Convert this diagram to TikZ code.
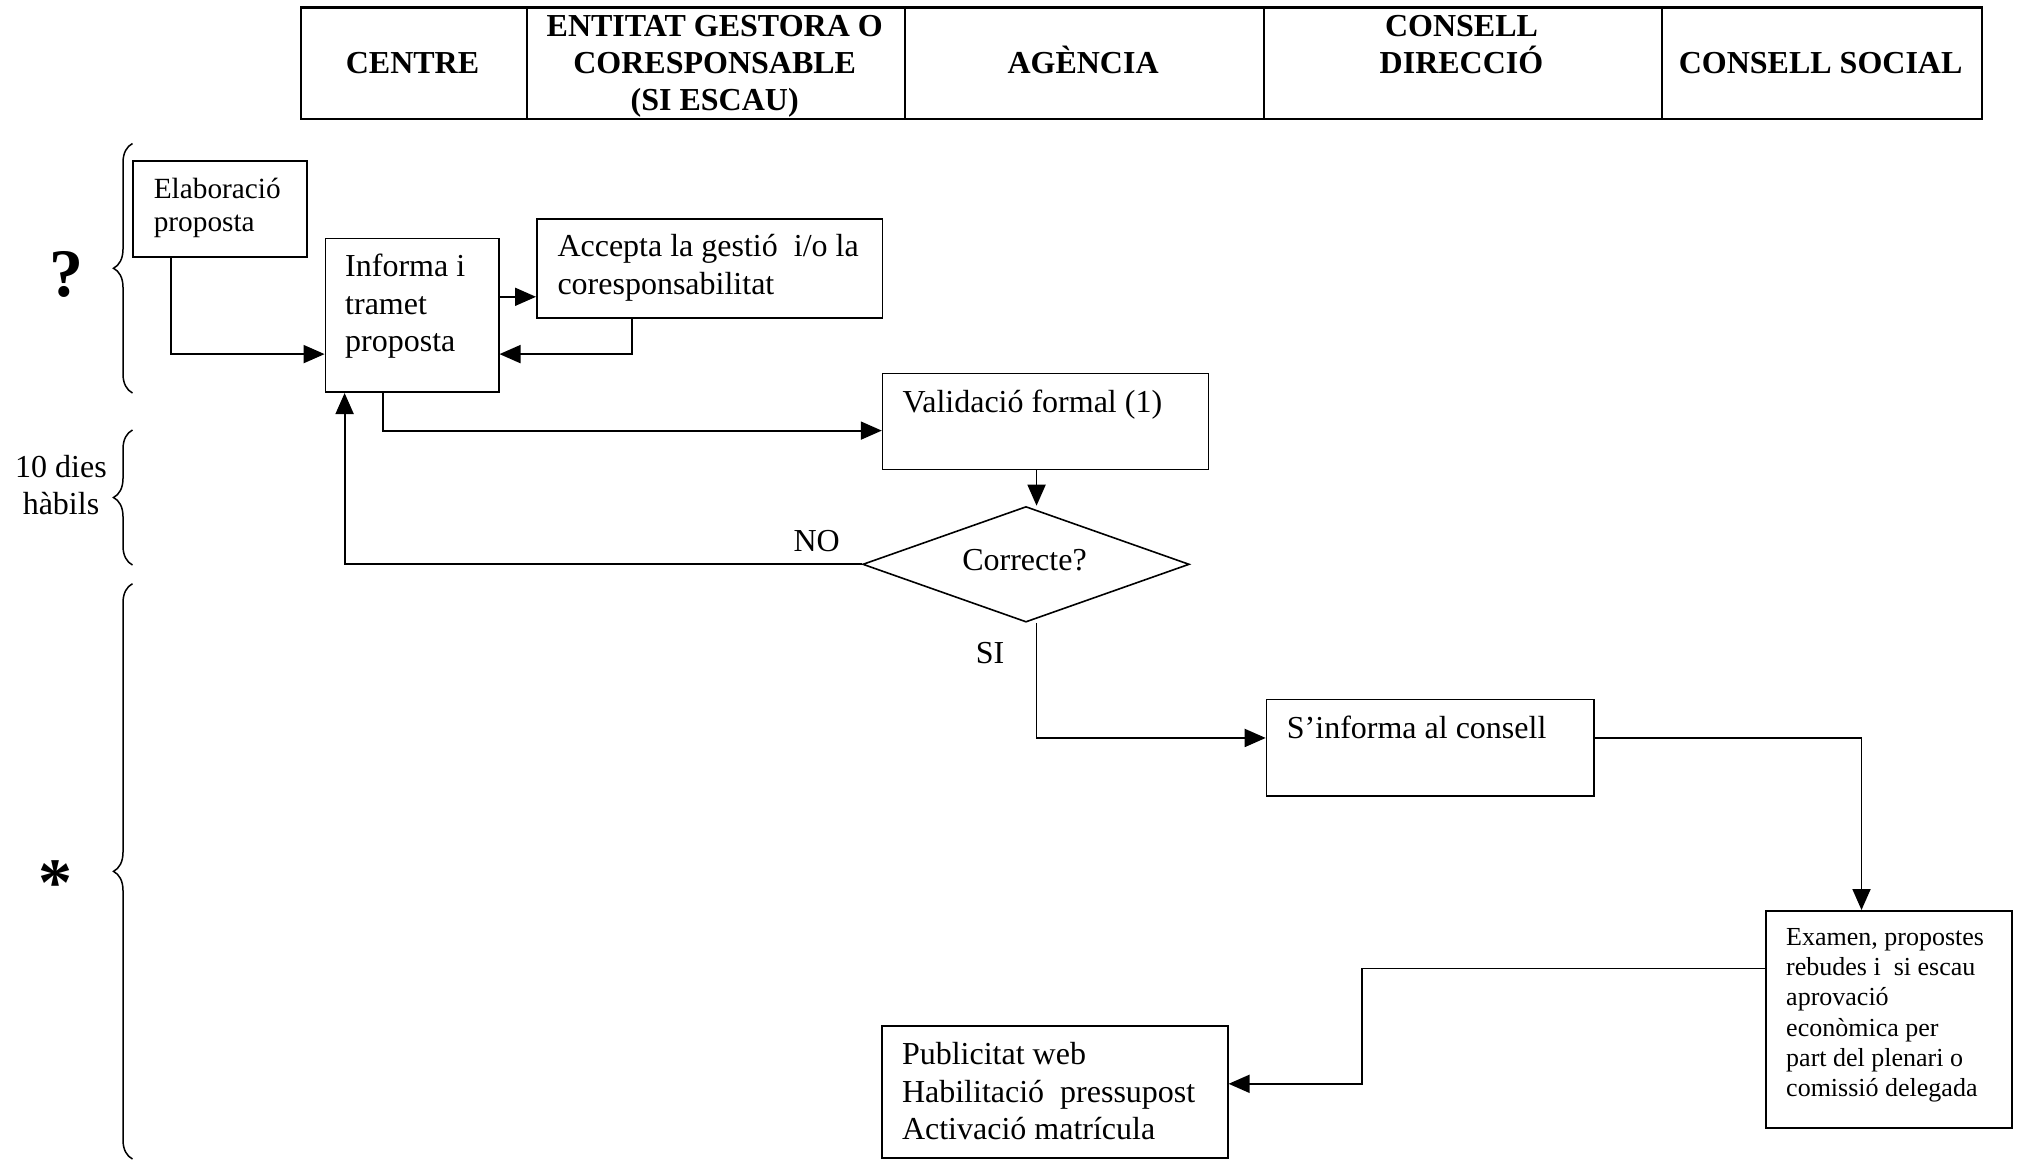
\documentclass[tikz,border=0pt]{standalone}
\usepackage{fontspec}
\setmainfont{Liberation Serif}
\usetikzlibrary{arrows.meta,shapes.geometric,decorations.pathreplacing,calc}
\newcommand\tstrut{\rule{0pt}{36pt}}
\begin{document}
\begin{tikzpicture}[x=1pt,y=-1pt,
  box/.style={draw, line width=1.6pt, rectangle, inner sep=0pt, anchor=north west},
  hcell/.style={draw, line width=2.4pt, rectangle, inner sep=0pt, anchor=north west, minimum height=111.3pt},
  arr/.style={line width=1.8pt, -{Triangle[length=21pt,width=18pt]}},
  plain/.style={line width=1.8pt},
  txt/.style={inner sep=0pt, anchor=north west, align=left, font=\fontsize{32}{37.2}\selectfont},
  stxt/.style={inner sep=0pt, anchor=north west, align=left, font=\fontsize{29.3}{33.4}\selectfont},
  xtxt/.style={inner sep=0pt, anchor=north west, align=left, font=\fontsize{26}{30.3}\selectfont},
  htxt/.style={inner sep=0pt, align=center, font=\fontsize{32}{37}\selectfont\bfseries},
  lbl/.style={inner sep=0pt, anchor=base, font=\fontsize{32}{37}\selectfont},
  big/.style={inner sep=0pt, anchor=base, font=\fontsize{68}{70}\selectfont\bfseries},
  brc/.style={line width=1.5pt, decorate, decoration={brace, amplitude=19pt}}
]
\useasboundingbox (0,0) rectangle (2020,1160);

% header table
\node[hcell, minimum width=226.1pt] (h1) at (299.5,6.3) {};
\node[hcell, minimum width=378.1pt] (h2) at (525.6,6.3) {};
\node[hcell, minimum width=358.8pt] (h3) at (903.7,6.3) {};
\node[hcell, minimum width=398.1pt] (h4) at (1262.5,6.3) {};
\node[hcell, minimum width=320.1pt] (h5) at (1660.6,6.3) {};
\node[htxt, anchor=base] (h1t) at (412.5,73.2) {CENTRE};
\node[htxt, anchor=north] (h2t) at (714.7,0.3) {\tstrut ENTITAT GESTORA O\\CORESPONSABLE\\(SI ESCAU)};
\node[htxt, anchor=base] (h3t) at (1083.1,73.2) {AGÈNCIA};
\node[htxt, anchor=north] (h4t) at (1461.5,0.3) {\tstrut CONSELL\\DIRECCIÓ};
\node[htxt, anchor=base] (h5t) at (1820.6,73.2) {CONSELL SOCIAL};

% boxes
\node[box, minimum width=174pt, minimum height=96pt] (elab) at (132,160) {};
\node[box, minimum width=173.3pt, minimum height=153.6pt] (inf) at (324.6,237.8) {};
\node[box, minimum width=345.8pt, minimum height=99.2pt] (acc) at (536,218.2) {};
\node[box, minimum width=325.9pt, minimum height=96.2pt] (val) at (881.8,372.5) {};
\node[draw, line width=1.6pt, diamond, inner sep=0pt, minimum width=326.6pt, minimum height=115.6pt] (dia) at (1026,564.3) {};
\node[box, minimum width=327.3pt, minimum height=96.3pt] (sinf) at (1265.7,698.7) {};
\node[box, minimum width=246pt, minimum height=217pt] (exam) at (1765,910) {};
\node[box, minimum width=346pt, minimum height=132pt] (pub) at (881,1025) {};

% box texts
\node[stxt] (elabt) at (153.6,162.3) {\tstrut Elaboració\\proposta};
\node[txt] (inft) at (345,240.7) {\tstrut Informa i\\tramet\\proposta};
\node[txt] (acct) at (557.3,220.7) {\tstrut Accepta la gestió~ i/o la\\coresponsabilitat};
\node[txt] (valt) at (902.5,376) {\tstrut Validació formal (1)};
\node[lbl] (diat) at (1024.5,570) {Correcte?};
\node[txt] (sinft) at (1286.7,702.3) {\tstrut S’informa al consell};
\node[xtxt] (examt) at (1786,909) {\tstrut Examen, propostes\\rebudes i~ si escau\\aprovació\\econòmica per\\part del plenari o\\comissió delegada};
\node[txt] (pubt) at (901.8,1028.6) {\tstrut Publicitat web\\Habilitació~ pressupost\\Activació matrícula};

% labels
\node[lbl] (no) at (816.7,551) {NO};
\node[lbl] (si) at (990,663) {SI};
\node[big] (q) at (66,296) {?};
\node[big] (ast) at (55,905) {*};
\node[lbl, anchor=north, align=center] (dies) at (61,441) {\tstrut 10 dies\\hàbils};

% braces
\draw[brc] (132.5,393) -- (132.5,143.5);
\draw[brc] (132.5,565) -- (132.5,430);
\draw[brc] (132.5,1159) -- (132.5,583.7);

% connectors
\draw[arr] ([xshift=38.7pt]elab.south west) |- ([yshift=-38.7pt]inf.west);
\coordinate (c1) at ([yshift=18.6pt]inf.east);
\draw[arr] (c1) -- (c1 -| acc.west);
\draw[arr] ([xshift=95.9pt]acc.south west) |- ([yshift=-38.7pt]inf.east);
\draw[arr] ([xshift=58pt]inf.south west) |- ([yshift=-9.2pt]val.west);
\coordinate (vx) at ([xshift=-9pt]val.south);
\draw[arr] (vx) -- (vx |- dia.north);
\draw[arr] (dia.west) -| ([xshift=20pt]inf.south west);
\draw[arr] (dia.south -| vx) |- ([yshift=9.7pt]sinf.west);
\draw[arr] ([yshift=9.7pt]sinf.east) -| ([xshift=96.5pt]exam.north west);
\coordinate (c2) at ([yshift=50.8pt]exam.west);
\coordinate (c3) at ([xshift=-403.3pt]c2);
\draw[arr] (c2) -- (c3) |- ([yshift=8pt]pub.east);
\end{tikzpicture}
\end{document}
